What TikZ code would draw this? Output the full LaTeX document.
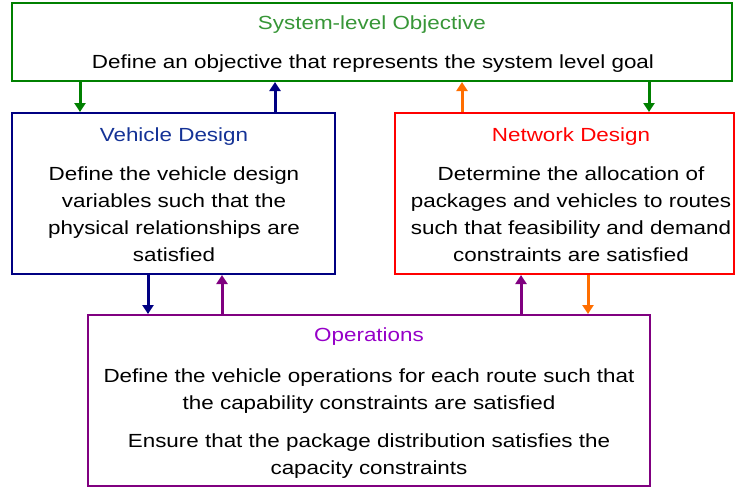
\documentclass[tikz,border=0pt]{standalone}
\usepackage{fontspec}
\setmainfont[FakeStretch=1.18]{Liberation Sans}
\usetikzlibrary{arrows.meta}

\definecolor{objgreen}{RGB}{0,128,0}
\definecolor{objtitle}{RGB}{55,150,55}
\definecolor{vehnavy}{RGB}{0,0,130}
\definecolor{vehtitle}{RGB}{20,50,150}
\definecolor{netred}{RGB}{255,0,0}
\definecolor{netorange}{RGB}{255,110,0}
\definecolor{opspurple}{RGB}{128,0,128}
\definecolor{opstitle}{RGB}{150,0,200}

\begin{document}
\begin{tikzpicture}[x=1pt,y=-1pt,
  box/.style={line width=2pt,inner sep=0pt},
  txt/.style={align=center,font=\fontsize{19}{27}\selectfont},
  link/.style={line width=3pt,-{Triangle[length=9pt,width=11pt]}}]
\useasboundingbox (0,0) rectangle (736,488);
\coordinate (A) at (80,0);
\coordinate (B) at (275,0);
\coordinate (C) at (462,0);
\coordinate (D) at (649,0);
\coordinate (E) at (148,0);
\coordinate (F) at (222,0);
\coordinate (G) at (521,0);
\coordinate (H) at (588,0);
% the four boxes
\node[box,draw=objgreen,minimum width=720pt,minimum height=78pt] (obj) at (372,42) {};
\node[box,draw=vehnavy,minimum width=323pt,minimum height=161pt] (veh) at (173.5,193.5) {};
\node[box,draw=netred,minimum width=339pt,minimum height=161pt] (net) at (564.5,193.5) {};
\node[box,draw=opspurple,minimum width=562pt,minimum height=171pt] (ops) at (369,400.5) {};
% titles and texts
\node[txt,text=objtitle] (objhead) at (372,24.5) {System-level Objective};
\node[txt] (objbody) at (373,64) {Define an objective that represents the system level goal};
\node[txt,text=vehtitle] (vehhead) at (174,137) {Vehicle Design};
\node[txt] (vehbody) at (174,214.5) {Define the vehicle design\\variables such that the\\physical relationships are\\satisfied};
\node[txt,text=netred] (nethead) at (571,137) {Network Design};
\node[txt] (netbody) at (571,214.5) {Determine the allocation of\\packages and vehicles to routes\\such that feasibility and demand\\constraints are satisfied};
\node[txt,text=opstitle] (opshead) at (369,337) {Operations};
\node[txt] (opsbodya) at (369,391.5) {Define the vehicle operations for each route such that\\the capability constraints are satisfied};
\node[txt] (opsbodyb) at (369,456.5) {Ensure that the package distribution satisfies the\\capacity constraints};
% arrows between the boxes
\draw[link,objgreen] (obj.south -| A) -- (veh.north -| A);
\draw[link,vehnavy] (veh.north -| B) -- (obj.south -| B);
\draw[link,netorange] (net.north -| C) -- (obj.south -| C);
\draw[link,objgreen] (obj.south -| D) -- (net.north -| D);
\draw[link,vehnavy] (veh.south -| E) -- (ops.north -| E);
\draw[link,opspurple] (ops.north -| F) -- (veh.south -| F);
\draw[link,opspurple] (ops.north -| G) -- (net.south -| G);
\draw[link,netorange] (net.south -| H) -- (ops.north -| H);
\end{tikzpicture}
\end{document}
